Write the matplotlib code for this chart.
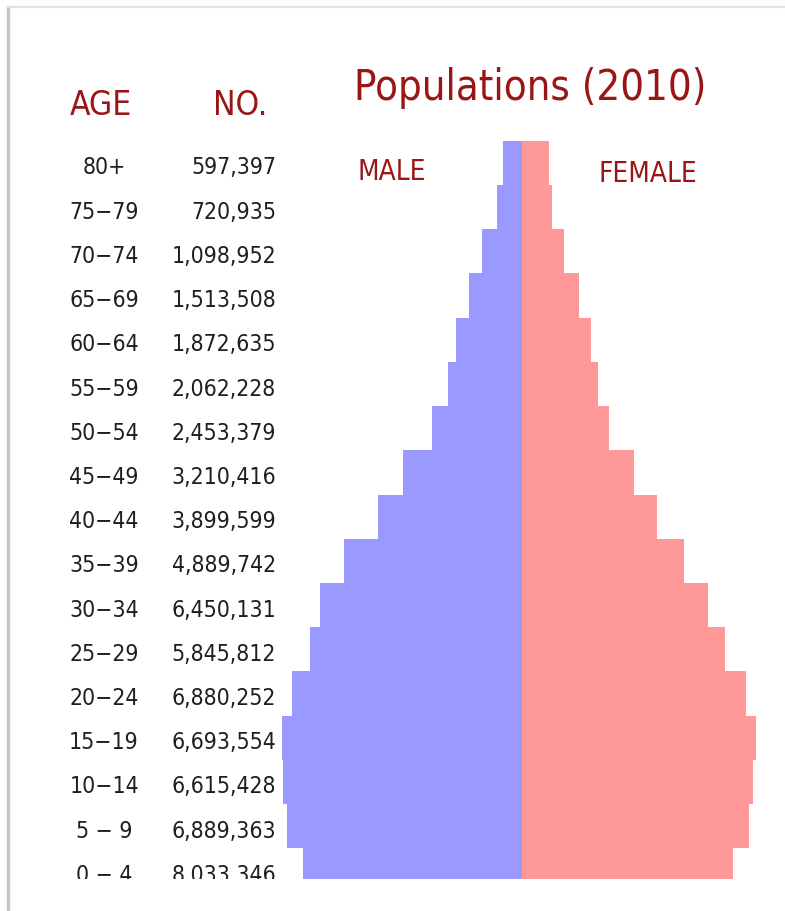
import matplotlib
matplotlib.use("Agg")
import matplotlib.pyplot as plt
from matplotlib import font_manager
from matplotlib.transforms import blended_transform_factory
from matplotlib.lines import Line2D

# age groups, youngest first
ages = ["0 − 4", "5 − 9", "10−14", "15−19", "20−24", "25−29", "30−34", "35−39",
        "40−44", "45−49", "50−54", "55−59", "60−64", "65−69", "70−74", "75−79", "80+"]
totals = ["8,033,346", "6,889,363", "6,615,428", "6,693,554", "6,880,252", "5,845,812",
          "6,450,131", "4,889,742", "3,899,599", "3,210,416", "2,453,379", "2,062,228",
          "1,872,635", "1,513,508", "1,098,952", "720,935", "597,397"]
# bar lengths, thousands
male = [3055, 3279, 3343, 3357, 3209, 2968, 2821, 2481, 2013, 1655, 1257, 1025,
        921, 735, 549, 347, 255]
female = [2957, 3185, 3245, 3279, 3143, 2849, 2607, 2275, 1901, 1579, 1229, 1075,
          973, 805, 599, 423, 385]

W, H = 785, 911
RED = "#9a1616"

# use a condensed face if one is installed
narrow = [f for f in font_manager.fontManager.ttflist
          if f.stretch in ("condensed", "semi-condensed", "extra-condensed", "ultra-condensed")
          or "Narrow" in f.name or "Condensed" in f.name]
if narrow:
    pick = sorted(narrow, key=lambda f: (f.weight not in (400, "normal"), f.style != "normal"))[0]
    FONT = dict(fontproperties=font_manager.FontProperties(fname=pick.fname))
    shrink = 1.0
else:
    FONT = dict(family="DejaVu Sans")
    shrink = 0.8

fig = plt.figure(figsize=(W / 100, H / 100), dpi=100)

def fx(px):
    return px / W

def fy(py):
    return 1 - py / H

def label(x, y, s, size, **kw):
    fp = FONT.get("fontproperties")
    if fp is not None:
        fp = fp.copy()
        fp.set_size(size * shrink)
        return dict(x=x, y=y, s=s, fontproperties=fp, **kw)
    return dict(x=x, y=y, s=s, fontsize=size * shrink, family=FONT["family"], **kw)

# pyramid axes, clipped at the bottom like the original graphic
top, bottom = 140.8, 879.3
row_px = 44.22
ax = fig.add_axes([0, fy(bottom), 1, (bottom - top) / H])
ax.axis("off")
scale = 14.0  # thousands per pixel
centre = 521.5
ax.set_xlim(-centre * scale, (W - centre) * scale)
n = len(ages)
ax.set_ylim(n - 0.5 - (bottom - top) / row_px, n - 0.5)

y = list(range(n))
ax.barh(y, [-m for m in male], height=1.0, color="#9999ff",
        linewidth=0, antialiased=False)
ax.barh(y, female, height=1.0, color="#ff9999",
        linewidth=0, antialiased=False)

# table on the left
tr = blended_transform_factory(fig.transFigure, ax.transData)
for i, (a, t) in enumerate(zip(ages, totals)):
    ax.text(**label(fx(104), i - 0.26, a, 16.5, transform=tr, ha="center",
                    va="baseline", color="#1e1e1e", clip_on=True))
    ax.text(**label(fx(276), i - 0.26, t, 16.5, transform=tr, ha="right",
                    va="baseline", color="#1e1e1e", clip_on=True))

fig.text(**label(fx(101), fy(115), "AGE", 24, ha="center", va="baseline", color=RED))
fig.text(**label(fx(240), fy(115), "NO.", 24, ha="center", va="baseline", color=RED))
fig.text(**label(fx(530), fy(100), "Populations (2010)", 30, ha="center",
                 va="baseline", color=RED))
fig.text(**label(fx(392), fy(180), "MALE", 20, ha="center", va="baseline", color=RED))
fig.text(**label(fx(648), fy(182), "FEMALE", 20, ha="center", va="baseline", color=RED))

# panel edge
fig.add_artist(Line2D([fx(8), fx(8)], [0, fy(7)], transform=fig.transFigure,
                      color="#c4c4c4", linewidth=2.5))
fig.add_artist(Line2D([fx(8), 1], [fy(7), fy(7)], transform=fig.transFigure,
                      color="#e2e2e2", linewidth=1.5))

fig.savefig("out.png", dpi=100)
